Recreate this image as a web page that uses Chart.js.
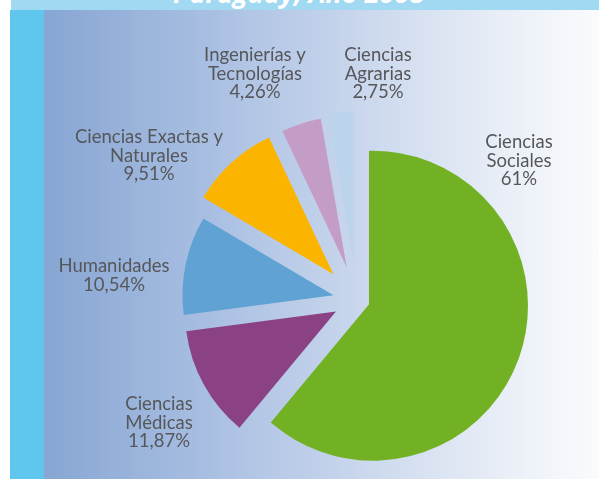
<!DOCTYPE html>
<html>
<head>
<meta charset="utf-8">
<script src="https://cdn.jsdelivr.net/npm/chart.js@4.4.0/dist/chart.umd.min.js"></script>
<style>
  html, body { margin: 0; padding: 0; background: #ffffff; }
  #stage { position: relative; width: 599px; height: 479px; overflow: hidden; background: #ffffff; }
  #band { position: absolute; left: 11px; top: 0; width: 588px; height: 10px; background: #a1d9f3; overflow: hidden; }
  #title { position: absolute; left: 162px; top: -23px; font-family: "Open Sans", sans-serif; font-weight: bold; font-style: italic; font-size: 27px; line-height: 32px; color: #ffffff; white-space: nowrap; }
  #strip { position: absolute; left: 10px; top: 10px; width: 34px; height: 469px; background: #5fc7ee; }
  #panel { position: absolute; left: 44px; top: 10px; width: 555px; height: 469px;
           background: linear-gradient(to right, #87a6d3 0%, #a9bfe2 30%, #c7d5ec 55%, #e6ecf6 80%, #fafbfd 100%); }
  #wrap { position: absolute; left: 0; top: 0; width: 599px; height: 479px; }
</style>
</head>
<body>
<div id="stage">
  <div id="band"><div id="title">Paraguay, Año 2008</div></div>
  <div id="strip"></div>
  <div id="panel"></div>
  <div id="wrap"><canvas id="c" width="599" height="479"></canvas></div>
</div>
<script>
const categories = ["Ciencias Sociales", "Ciencias Médicas", "Humanidades", "Ciencias Exactas y Naturales", "Ingenierías y Tecnologías", "Ciencias Agrarias"];
const labelLines = [["Ciencias", "Sociales"], ["Ciencias", "Médicas"], ["Humanidades"], ["Ciencias Exactas y", "Naturales"], ["Ingenierías y", "Tecnologías"], ["Ciencias", "Agrarias"]];
const values = [61, 11.87, 10.54, 9.51, 4.26, 2.75];
const colors = ["#72b124", "#8a4285", "#5fa2d3", "#fbb500", "#c49dc7", "#bcd3ec"];

// explosion distance (px) of each slice along its bisector
const explode = [17, 24, 24, 35, 34, 38];
// label anchor (center x, first baseline y)
const labelPos = [[519, 148], [159, 410], [114, 272], [149, 143], [255, 61], [378, 61]];

const fmt = v => String(v).replace('.', ',') + '%';

const explodePlugin = {
  id: 'explode',
  beforeDatasetDraw(chart, args) {
    const ctx = chart.ctx;
    args.meta.data.forEach((arc, i) => {
      const mid = (arc.startAngle + arc.endAngle) / 2;
      ctx.save();
      ctx.translate(Math.cos(mid) * explode[i], Math.sin(mid) * explode[i]);
      arc.draw(ctx);
      ctx.restore();
    });
    return false;
  }
};

const labelPlugin = {
  id: 'sliceLabels',
  afterDraw(chart) {
    const ctx = chart.ctx;
    ctx.save();
    ctx.font = '18.5px Lato, "Open Sans", sans-serif';
    ctx.fillStyle = '#56575a';
    ctx.textAlign = 'center';
    ctx.textBaseline = 'alphabetic';
    const lh = 18.5;
    categories.forEach((c, i) => {
      const lines = labelLines[i].concat([fmt(values[i])]);
      const [x, y] = labelPos[i];
      lines.forEach((t, k) => ctx.fillText(t, x, y + k * lh));
    });
    ctx.restore();
  }
};

new Chart(document.getElementById('c'), {
  type: 'pie',
  data: {
    labels: categories,
    datasets: [{
      data: values,
      backgroundColor: colors,
      borderColor: colors,
      borderWidth: [8, 0, 0, 0, 0, 0],
      borderJoinStyle: 'miter'
    }]
  },
  options: {
    responsive: false,
    animation: false,
    radius: 151,
    layout: { padding: { left: 115, top: 121, right: 0, bottom: 0 } },
    plugins: { legend: { display: false }, tooltip: { enabled: false }, title: { display: false } }
  },
  plugins: [explodePlugin, labelPlugin]
});
</script>
</body>
</html>
